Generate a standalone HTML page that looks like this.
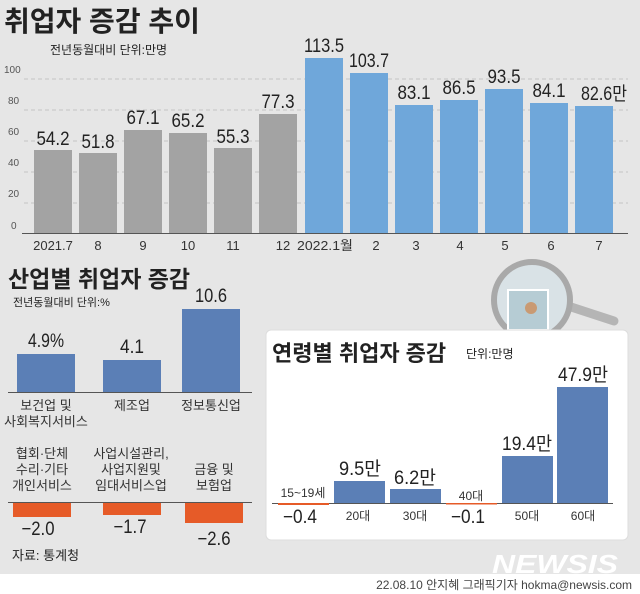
<!DOCTYPE html>
<html><head><meta charset="utf-8"><style>
html,body{margin:0;padding:0;background:#e6e6e6}
svg{display:block}
text{font-family:"Liberation Sans","Noto Sans CJK KR",sans-serif;fill:#222}
.v{font-size:19px}
.t{font-size:13px;fill:#333}
</style></head><body>
<svg width="640" height="594" viewBox="0 0 640 594" xmlns="http://www.w3.org/2000/svg">
<rect width="640" height="594" fill="#e6e6e6"/>
<rect y="574" width="640" height="20" fill="#fff"/>
<!-- top chart -->
<text x="4" y="31" font-size="28" font-weight="bold" fill="#2a2a2a">취업자 증감 추이</text>
<text x="50" y="54" font-size="12" fill="#333">전년동월대비 단위:만명</text>
<g stroke="#c4c4c4" stroke-dasharray="4,3" stroke-width="1">
<line x1="24" y1="79" x2="628" y2="79"/><line x1="24" y1="110" x2="628" y2="110"/>
<line x1="24" y1="141" x2="628" y2="141"/><line x1="24" y1="172" x2="628" y2="172"/>
<line x1="24" y1="203" x2="628" y2="203"/>
</g>
<g font-size="10" fill="#555">
<text x="4" y="73" style="font-size:10px;fill:#555">100</text>
<text x="8" y="104" style="font-size:10px;fill:#555">80</text>
<text x="8" y="135" style="font-size:10px;fill:#555">60</text>
<text x="8" y="166" style="font-size:10px;fill:#555">40</text>
<text x="8" y="197" style="font-size:10px;fill:#555">20</text>
<text x="11" y="229" style="font-size:10px;fill:#555">0</text>
</g>
<g fill="#a3a3a3">
<rect x="34" y="150" width="38" height="83"/>
<rect x="79" y="153" width="38" height="80"/>
<rect x="124" y="130" width="38" height="103"/>
<rect x="169" y="133" width="38" height="100"/>
<rect x="214" y="148" width="38" height="85"/>
<rect x="259" y="114" width="38" height="119"/>
</g>
<g fill="#6fa7da">
<rect x="305" y="58" width="38" height="175"/>
<rect x="350" y="73" width="38" height="160"/>
<rect x="395" y="105" width="38" height="128"/>
<rect x="440" y="100" width="38" height="133"/>
<rect x="485" y="89" width="38" height="144"/>
<rect x="530" y="103" width="38" height="130"/>
<rect x="575" y="106" width="38" height="127"/>
</g>
<line x1="22" y1="233.5" x2="628" y2="233.5" stroke="#555" stroke-width="1"/>
<g class="v" text-anchor="middle">
<text class="v" x="53" y="145" textLength="33" lengthAdjust="spacingAndGlyphs">54.2</text>
<text class="v" x="98" y="148" textLength="33" lengthAdjust="spacingAndGlyphs">51.8</text>
<text class="v" x="143" y="124" textLength="33" lengthAdjust="spacingAndGlyphs">67.1</text>
<text class="v" x="188" y="127" textLength="33" lengthAdjust="spacingAndGlyphs">65.2</text>
<text class="v" x="233" y="143" textLength="33" lengthAdjust="spacingAndGlyphs">55.3</text>
<text class="v" x="278" y="108" textLength="33" lengthAdjust="spacingAndGlyphs">77.3</text>
<text class="v" x="324" y="52" textLength="40" lengthAdjust="spacingAndGlyphs">113.5</text>
<text class="v" x="369" y="67" textLength="40" lengthAdjust="spacingAndGlyphs">103.7</text>
<text class="v" x="414" y="99" textLength="33" lengthAdjust="spacingAndGlyphs">83.1</text>
<text class="v" x="459" y="94" textLength="33" lengthAdjust="spacingAndGlyphs">86.5</text>
<text class="v" x="504" y="83" textLength="33" lengthAdjust="spacingAndGlyphs">93.5</text>
<text class="v" x="549" y="97" textLength="33" lengthAdjust="spacingAndGlyphs">84.1</text>
<text class="v" x="604" y="100" textLength="46" lengthAdjust="spacingAndGlyphs">82.6만</text>
</g>
<g text-anchor="middle">
<text class="t" x="53" y="250">2021.7</text>
<text class="t" x="98" y="250">8</text>
<text class="t" x="143" y="250">9</text>
<text class="t" x="188" y="250">10</text>
<text class="t" x="233" y="250">11</text>
<text class="t" x="283" y="250">12</text>
<text class="t" x="325" y="250" textLength="56" lengthAdjust="spacingAndGlyphs">2022.1월</text>
<text class="t" x="376" y="250">2</text>
<text class="t" x="416" y="250">3</text>
<text class="t" x="460" y="250">4</text>
<text class="t" x="505" y="250">5</text>
<text class="t" x="551" y="250">6</text>
<text class="t" x="599" y="250">7</text>
</g>
<!-- industry -->
<text x="8" y="287" font-size="23" font-weight="bold" fill="#2a2a2a">산업별 취업자 증감</text>
<text x="13" y="306" font-size="11" fill="#333">전년동월대비 단위:%</text>
<g fill="#5b7fb6">
<rect x="17" y="354" width="58" height="38"/>
<rect x="103" y="360" width="58" height="32"/>
<rect x="182" y="309" width="58" height="83"/>
</g>
<line x1="8" y1="392.5" x2="252" y2="392.5" stroke="#555"/>
<g text-anchor="middle">
<text class="v" x="46" y="347" textLength="36" lengthAdjust="spacingAndGlyphs">4.9%</text>
<text class="v" x="132" y="353" textLength="24" lengthAdjust="spacingAndGlyphs">4.1</text>
<text class="v" x="211" y="302" textLength="32" lengthAdjust="spacingAndGlyphs">10.6</text>
<text class="t" x="46" y="410">보건업 및</text>
<text class="t" x="46" y="426">사회복지서비스</text>
<text class="t" x="132" y="410">제조업</text>
<text class="t" x="211" y="410">정보통신업</text>
<text class="t" x="42" y="458">협회·단체</text>
<text class="t" x="42" y="474">수리·기타</text>
<text class="t" x="42" y="490">개인서비스</text>
<text class="t" x="131" y="458">사업시설관리,</text>
<text class="t" x="131" y="474">사업지원및</text>
<text class="t" x="131" y="490">임대서비스업</text>
<text class="t" x="214" y="474">금융 및</text>
<text class="t" x="214" y="490">보험업</text>
</g>
<g fill="#e65b28">
<rect x="13" y="502" width="58" height="15"/>
<rect x="103" y="502" width="58" height="13"/>
<rect x="185" y="502" width="58" height="21"/>
</g>
<line x1="8" y1="502.5" x2="252" y2="502.5" stroke="#555"/>
<g text-anchor="middle">
<text class="v" x="38" y="535" textLength="33" lengthAdjust="spacingAndGlyphs">−2.0</text>
<text class="v" x="130" y="533" textLength="33" lengthAdjust="spacingAndGlyphs">−1.7</text>
<text class="v" x="214" y="545" textLength="33" lengthAdjust="spacingAndGlyphs">−2.6</text>
</g>
<text x="12" y="560" font-size="13" fill="#333">자료: 통계청</text>
<!-- magnifier -->
<line x1="565" y1="305" x2="614" y2="321" stroke="#b5b5b5" stroke-width="9" stroke-linecap="round"/>
<circle cx="532" cy="300" r="38" fill="#d9e2e6" stroke="#a9a9a9" stroke-width="6"/>
<rect x="508" y="290" width="40" height="40" fill="#b6ccd4" stroke="#fff" stroke-width="2"/>
<circle cx="531" cy="308" r="6" fill="#c99a73"/>
<!-- age panel -->
<rect x="266" y="330" width="362" height="210" rx="5" fill="#fff" stroke="#ddd"/>
<text x="272" y="361" font-size="22" font-weight="bold" fill="#2a2a2a">연령별 취업자 증감</text>
<text x="466" y="358" font-size="12" fill="#333">단위:만명</text>
<g fill="#5b7fb6">
<rect x="334" y="481" width="51" height="22"/>
<rect x="390" y="489" width="51" height="14"/>
<rect x="502" y="456" width="51" height="47"/>
<rect x="557" y="387" width="51" height="116"/>
</g>
<line x1="272" y1="503.5" x2="613" y2="503.5" stroke="#555"/>
<g fill="#e65b28">
<rect x="278" y="503" width="51" height="2"/>
<rect x="446" y="503" width="51" height="1.5"/>
</g>
<g text-anchor="middle">
<text x="303" y="497" style="font-size:12px;fill:#333">15~19세</text>
<text x="471" y="500" style="font-size:12px;fill:#333">40대</text>
<text class="v" x="360" y="475" textLength="42" lengthAdjust="spacingAndGlyphs">9.5만</text>
<text class="v" x="415" y="484" textLength="42" lengthAdjust="spacingAndGlyphs">6.2만</text>
<text class="v" x="527" y="450" textLength="50" lengthAdjust="spacingAndGlyphs">19.4만</text>
<text class="v" x="583" y="381" textLength="50" lengthAdjust="spacingAndGlyphs">47.9만</text>
<text class="v" x="300" y="523" textLength="34" lengthAdjust="spacingAndGlyphs">−0.4</text>
<text class="v" x="468" y="523" textLength="34" lengthAdjust="spacingAndGlyphs">−0.1</text>
<text x="358" y="520" style="font-size:12px;fill:#333">20대</text>
<text x="415" y="520" style="font-size:12px;fill:#333">30대</text>
<text x="527" y="520" style="font-size:12px;fill:#333">50대</text>
<text x="583" y="520" style="font-size:12px;fill:#333">60대</text>
</g>
<text x="492" y="573" font-size="26" font-weight="bold" font-style="italic" style="fill:#fff" textLength="126" lengthAdjust="spacingAndGlyphs">NEWSIS</text>
<text x="632" y="589" text-anchor="end" style="font-size:12px;fill:#444">22.08.10 안지혜 그래픽기자 hokma@newsis.com</text>
</svg>
</body></html>
